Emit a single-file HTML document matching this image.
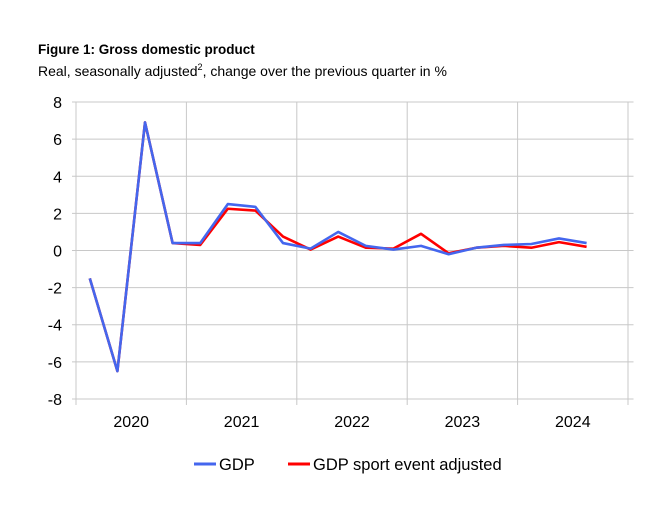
<!DOCTYPE html>
<html><head><meta charset="utf-8"><style>
body{margin:0;background:#fff;font-family:"Liberation Sans",Arial,sans-serif;}
svg text{font-family:"Liberation Sans",Arial,sans-serif;}
</style></head><body>
<svg id="c" width="668" height="507" xmlns="http://www.w3.org/2000/svg">
<text x="38" y="54" font-size="13.5" font-weight="bold" fill="#000">Figure 1: Gross domestic product</text>
<text x="38" y="76" font-size="14" fill="#000">Real, seasonally adjusted<tspan font-size="9" dy="-6">2</tspan><tspan dy="6">, change over the previous quarter in %</tspan></text>
<g id="grid"></g><g id="series"></g>
<g>
<line x1="194" y1="464" x2="216" y2="464" stroke="#4466ee" stroke-width="3"/>
<text x="219" y="470" font-size="16.5">GDP</text>
<line x1="288" y1="464" x2="310" y2="464" stroke="#ff0000" stroke-width="3"/>
<text x="313" y="470" font-size="16.5">GDP sport event adjusted</text>
</g>
</svg>
<script>
const years=["2020","2021","2022","2023","2024"];
const yTicks=[8,6,4,2,0,-2,-4,-6,-8];
const gdp=[-1.5,-6.5,6.9,0.4,0.4,2.5,2.35,0.4,0.1,1.0,0.25,0.05,0.25,-0.2,0.15,0.3,0.35,0.65,0.4];
const adjusted=[-1.5,-6.5,6.9,0.4,0.3,2.25,2.15,0.75,0.05,0.75,0.15,0.1,0.9,-0.15,0.15,0.25,0.15,0.45,0.2];
const NS="http://www.w3.org/2000/svg";
const x0=76,qw=27.6,y0=250.5,unit=18.56;
const xq=i=>x0+qw/2+qw*i;
const yv=v=>y0-v*unit;
function mk(t,a,p){const e=document.createElementNS(NS,t);for(const k in a)e.setAttribute(k,a[k]);p.appendChild(e);return e;}
const g=document.getElementById('grid');
yTicks.forEach(v=>{
 const l=mk('line',{x1:72,x2:x0+qw*20.2,y1:yv(v),y2:yv(v),stroke:'#c8c8c8','stroke-width':1},g);
 
 
 const t=mk('text',{x:62,y:yv(v)+6,'font-size':16,'text-anchor':'end'},g);
 t.textContent=v;
 
 
});
for(let i=0;i<=years.length;i++){
 const x=x0+qw*4*i;
 const l=mk('line',{x1:x,x2:x,y1:yv(8),y2:yv(-8)+6,stroke:'#c8c8c8','stroke-width':1},g);
 
 
}
years.forEach((y,i)=>{
 const t=mk('text',{x:x0+qw*4*i+qw*2,y:427,'font-size':16,'text-anchor':'middle'},g);
 t.textContent=y;
 
 
});
const s=document.getElementById('series');
function line(d,c,n){
 const p=mk('polyline',{points:d.map((v,i)=>xq(i)+','+yv(v)).join(' '),fill:'none',stroke:c,'stroke-width':2.6,'stroke-linejoin':'round'},s);
 
 
}
line(adjusted,'#ff0000','adjusted-line');
line(gdp,'#4466ee','gdp-line');
</script>
</body></html>
